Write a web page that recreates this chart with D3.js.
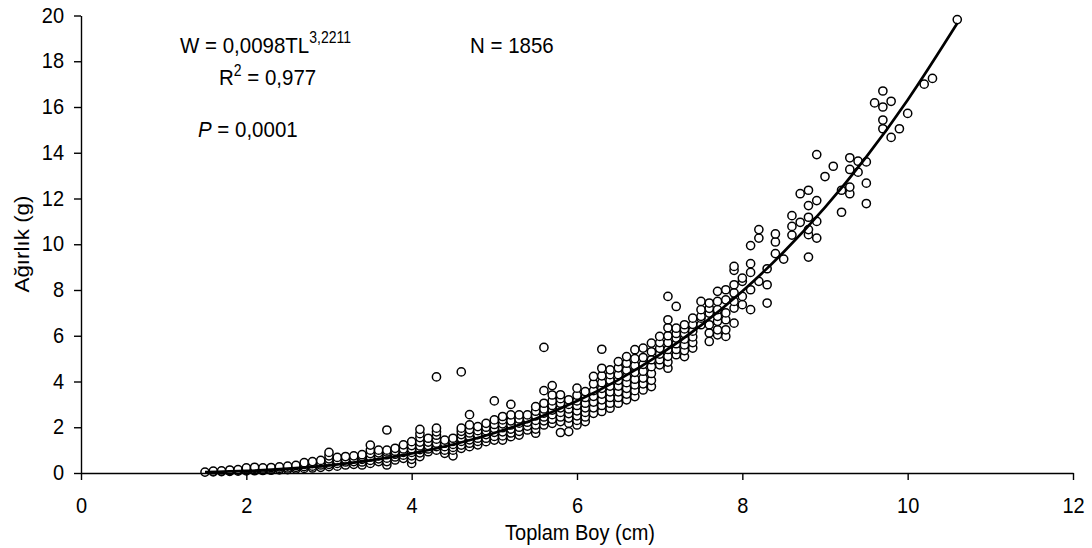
<!DOCTYPE html>
<html><head><meta charset="utf-8">
<script src="https://cdn.jsdelivr.net/npm/d3@7/dist/d3.min.js"></script>
<style>
body{margin:0;background:#fff}
text{font-family:"Liberation Sans",Arial,Helvetica,sans-serif;fill:#000}
</style>
</head><body>
<svg id="chart" width="1092" height="548"></svg>
<script>
// ---- data ----
const xTicks = [0, 2, 4, 6, 8, 10, 12];
const yTicks = [0, 2, 4, 6, 8, 10, 12, 14, 16, 18, 20];

// total length classes (cm)
const lengthCols = [1.5,1.6,1.7,1.8,1.9,2.0,2.1,2.2,2.3,2.4,2.5,2.6,2.7,2.8,2.9,3.0,3.1,3.2,3.3,3.4,3.5,3.6,3.7,3.8,3.9,4.0,4.1,4.2,4.3,4.4,4.5,4.6,4.7,4.8,4.9,5.0,5.1,5.2,5.3,5.4,5.5,5.6,5.7,5.8,5.9,6.0,6.1,6.2,6.3,6.4,6.5,6.6,6.7,6.8,6.9,7.0,7.1,7.2,7.3,7.4,7.5,7.6,7.7,7.8,7.9,8.0,8.1,8.2,8.3,8.4,8.5,8.6,8.7,8.8,8.9,9.0,9.1,9.2,9.3,9.4,9.5,9.6,9.7,9.8,9.9,10.0,10.2,10.3,10.6];
// weights (g) observed in each length class
const weightCols = [
 [0.04],
 [0.05,0.08],
 [0.06,0.09],
 [0.07,0.1,0.13],
 [0.08,0.12,0.15],
 [0.09,0.13,0.18,0.22],
 [0.1,0.15,0.2,0.25],
 [0.11,0.16,0.22],
 [0.12,0.18,0.24],
 [0.14,0.2,0.27],
 [0.15,0.22,0.3],
 [0.17,0.25,0.33],
 [0.2,0.28,0.38,0.45],
 [0.22,0.3,0.42,0.5],
 [0.25,0.35,0.45,0.55],
 [0.28,0.38,0.5,0.62,0.75,0.9],
 [0.3,0.42,0.55,0.68],
 [0.35,0.48,0.6,0.72],
 [0.38,0.5,0.62,0.75],
 [0.35,0.48,0.6,0.72,0.8],
 [0.42,0.55,0.7,0.85,1.0,1.22],
 [0.5,0.62,0.75,0.88,1.0],
 [0.35,0.5,0.65,0.8,0.92,1.0,1.88],
 [0.57,0.7,0.82,0.95,1.08],
 [0.64,0.78,0.9,1.05,1.23],
 [0.42,0.6,0.75,0.9,1.05,1.2,1.37],
 [0.72,0.88,1.02,1.18,1.35,1.55,1.72,1.91],
 [0.93,1.05,1.2,1.35,1.52],
 [1.0,1.15,1.3,1.48,1.65,1.8,1.96,4.2],
 [0.86,1.0,1.15,1.3,1.44],
 [0.75,1.0,1.12,1.25,1.38,1.52],
 [1.08,1.22,1.38,1.52,1.68,1.82,1.96,4.42],
 [1.15,1.3,1.45,1.6,1.75,1.9,2.1,2.55],
 [1.23,1.38,1.52,1.68,1.85,2.03],
 [1.37,1.52,1.68,1.85,2.0,2.17],
 [1.44,1.6,1.78,1.95,2.12,2.32,3.15],
 [1.44,1.62,1.8,1.98,2.15,2.32,2.47],
 [1.59,1.75,1.92,2.1,2.28,2.54,3.0],
 [1.66,1.82,2.0,2.18,2.36,2.54],
 [1.88,2.05,2.22,2.38,2.54],
 [1.74,1.92,2.1,2.3,2.5,2.7,2.9],
 [2.1,2.28,2.45,2.62,2.8,3.05,3.6,5.49],
 [2.17,2.35,2.55,2.75,2.95,3.15,3.41,3.82],
 [1.77,2.25,2.45,2.65,2.85,3.05,3.25,3.42],
 [1.81,2.18,2.4,2.6,2.8,3.0,3.2],
 [2.1,2.3,2.5,2.72,2.95,3.15,3.4,3.71],
 [2.25,2.45,2.65,2.85,3.05,3.3,3.56],
 [2.61,2.85,3.1,3.35,3.6,3.9,4.22],
 [2.69,2.95,3.2,3.45,3.7,3.95,4.25,4.58,5.41],
 [2.83,3.05,3.3,3.55,3.8,4.05,4.3,4.51],
 [3.05,3.3,3.55,3.8,4.05,4.3,4.6,4.87],
 [3.2,3.45,3.7,3.95,4.2,4.5,4.8,5.09],
 [3.34,3.6,3.85,4.1,4.4,4.7,5.0,5.39],
 [3.63,3.9,4.15,4.45,4.75,5.05,5.46],
 [3.78,4.05,4.35,4.65,4.95,5.3,5.68],
 [4.73,4.95,5.2,5.45,5.7,5.97],
 [4.58,4.85,5.1,5.4,5.7,6.0,6.35,6.7,7.72],
 [5.17,5.4,5.65,5.9,6.1,6.33,7.28],
 [5.09,5.35,5.6,5.85,6.1,6.3,6.48],
 [5.46,5.7,5.95,6.2,6.5,6.77],
 [6.48,6.77,6.85,7.14,7.5],
 [5.75,6.12,6.48,6.99,7.2,7.43],
 [6.04,6.26,6.63,6.85,7.14,7.5,7.94],
 [5.97,6.26,6.7,7.0,7.57,8.01],
 [6.55,7.21,7.5,7.87,8.23,8.86,9.03],
 [7.36,7.72,8.38,8.52],
 [7.14,8.01,8.77,9.15,9.94],
 [8.38,10.27,10.64],
 [7.43,8.23,8.93],
 [9.59,10.1,10.45],
 [9.35],
 [10.4,10.78,11.25],
 [10.96,12.21],
 [9.44,10.42,10.64,11.18,11.69,12.36],
 [10.27,11.0,11.91,13.92],
 [12.96],
 [13.41],
 [11.4,12.36],
 [12.21,12.5,13.27,13.78],
 [13.15,13.63],
 [11.78,12.67,13.6],
 [16.18],
 [15.05,15.43,16.0,16.7],
 [14.67,16.25],
 [15.05],
 [15.72],
 [17.0],
 [17.25],
 [19.82]
];

// fitted power curve W = 0.0098 TL^3.2211
const fitLength = [1.5, 2, 2.5, 3, 3.5, 4, 4.5, 5, 5.5, 6, 6.5, 7, 7.5, 8, 8.5, 9, 9.5, 10, 10.6];
const fitWeight = [0.036, 0.091, 0.188, 0.337, 0.554, 0.852, 1.245, 1.749, 2.376, 3.147, 4.072, 5.170, 6.454, 7.945, 9.659, 11.61, 13.82, 16.31, 19.66];

// ---- drawing ----
const SY = 1.12; // vertical stretch of the lettering in the reference
const svg = d3.select("#chart");
const x = d3.scaleLinear().domain([0, 12]).range([81, 1073]);
const y = d3.scaleLinear().domain([0, 20]).range([473, 15.5]);

const points = [];
lengthCols.forEach((L, i) => weightCols[i].forEach(w => points.push({L, w})));

svg.append("g").selectAll("circle").data(points).join("circle")
  .attr("cx", d => x(d.L)).attr("cy", d => y(d.w)).attr("r", 4.1)
  .attr("fill", "#fff").attr("stroke", "#000").attr("stroke-width", 1.5);

const fit = fitLength.map((L, i) => [L, fitWeight[i]]);
svg.append("path").datum(fit)
  .attr("d", d3.line().x(d => x(d[0])).y(d => y(d[1])).curve(d3.curveCatmullRom))
  .attr("fill", "none").attr("stroke", "#000").attr("stroke-width", 2.7);

// axes
const gx = svg.append("g").attr("transform", "translate(0,473)")
  .call(d3.axisBottom(x).tickValues(xTicks).tickSize(7).tickSizeOuter(0).tickPadding(14.5).tickFormat(d3.format("d")));
const gy = svg.append("g").attr("transform", "translate(81,0)")
  .call(d3.axisLeft(y).tickValues(yTicks).tickSize(7).tickSizeOuter(0).tickPadding(10).tickFormat(d3.format("d")));
[gx, gy].forEach(g => {
  g.select(".domain").attr("stroke", "#000").attr("stroke-width", 1.4);
  g.selectAll(".tick line").attr("stroke", "#000").attr("stroke-width", 1.4);
  g.selectAll(".tick text").attr("font-size", 20).attr("font-family", "Liberation Sans, Arial, sans-serif")
    .attr("fill", "#000").attr("transform", `scale(1,${SY})`);
});
gy.selectAll(".tick text").attr("dy", "0.30em");

// helper: stretched text group
function label(px, py, extra) {
  return svg.append("g").attr("transform", `translate(${px},${py})${extra || ""} scale(1,${SY})`).append("text");
}

// axis titles
label(580, 540).attr("text-anchor", "middle").attr("font-size", 20).text("Toplam Boy (cm)");
svg.append("g").attr("transform", "translate(29,244) rotate(-90) scale(1.12,1)")
  .append("text").attr("text-anchor", "middle").attr("font-size", 20).text("Ağırlık (g)");

// annotations
const t1 = label(180, 53).attr("font-size", 20.5);
t1.append("tspan").text("W = 0,0098TL");
t1.append("tspan").attr("dy", -8.5).attr("font-size", 14).text("3,2211");

label(470, 53).attr("font-size", 20.5).text("N = 1856");

const t2 = label(219, 85).attr("font-size", 20.5);
t2.append("tspan").text("R");
t2.append("tspan").attr("dy", -8).attr("font-size", 14).text("2");
t2.append("tspan").attr("dy", 8).text(" = 0,977");

const t3 = label(198, 137).attr("font-size", 20.5);
t3.append("tspan").attr("font-style", "italic").text("P");
t3.append("tspan").text(" = 0,0001");
</script>
</body></html>
